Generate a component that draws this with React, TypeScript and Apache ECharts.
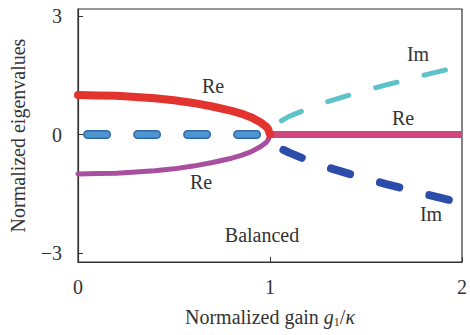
import React, { useEffect, useRef } from "react";
import * as echarts from "echarts";

const gRe = [0, 0.1, 0.2, 0.3, 0.4, 0.5, 0.6, 0.7, 0.8, 0.85, 0.9, 0.95, 0.98, 0.99, 1.0];
const reUpper = [1.0, 0.99, 0.98, 0.95, 0.92, 0.87, 0.8, 0.71, 0.6, 0.53, 0.44, 0.31, 0.2, 0.14, 0];
const reLower = [-1.0, -0.99, -0.98, -0.95, -0.92, -0.87, -0.8, -0.71, -0.6, -0.53, -0.44, -0.31, -0.2, -0.14, 0];
const gBalancedIm = [0.05, 1.0];
const imBalanced = [0, 0];
const gBrokenRe = [1.0, 2.0];
const reBroken = [0, 0];
const gImUp = [1.06, 1.1, 1.2, 1.3, 1.4, 1.5, 1.6, 1.7, 1.8, 1.9, 2.0];
const imUpper = [0.35, 0.46, 0.66, 0.83, 0.98, 1.12, 1.25, 1.37, 1.5, 1.62, 1.73];
const gImLow = [1.07, 1.1, 1.2, 1.3, 1.4, 1.5, 1.6, 1.7, 1.8, 1.9, 2.0];
const imLower = [-0.39, -0.46, -0.66, -0.83, -0.98, -1.12, -1.25, -1.37, -1.5, -1.62, -1.73];
const yTicks = [-3, 0, 3];

const FONT = "Liberation Serif";
const TXT = "#333";

const pts = (xs: number[], ys: number[]) => xs.map((x, i) => [x, ys[i]]);

export default function App() {
  const ref = useRef<HTMLDivElement>(null);
  useEffect(() => {
    document.body.style.margin = "0";
    const chart = echarts.init(ref.current!, undefined, { renderer: "svg" });
    const lbl = (text: string, x: number, y: number) => ({
      type: "text",
      x,
      y,
      style: {
        text,
        fontFamily: FONT,
        fontSize: 20,
        fill: TXT,
        textAlign: "center",
        textVerticalAlign: "middle",
      },
      z: 100,
    });
    chart.setOption({
      animation: false,
      backgroundColor: "#fff",
      textStyle: { fontFamily: FONT },
      grid: { left: 72, right: 7, top: 9, bottom: 73, show: true, borderColor: "#333", borderWidth: 1.2, backgroundColor: "transparent" },
      xAxis: {
        type: "value",
        min: 0,
        max: 2,
        interval: 1,
        name: "{a|Normalized gain }{i|g}{s|1}{a|/}{i|κ}",
        nameLocation: "middle",
        nameGap: 44,
        nameTextStyle: {
          fontFamily: FONT,
          rich: {
            a: { fontFamily: FONT, fontSize: 20, color: TXT },
            i: { fontFamily: FONT, fontSize: 20, color: TXT, fontStyle: "italic" },
            s: { fontFamily: FONT, fontSize: 12, color: TXT, padding: [10, 0, 0, 0] },
          },
        },
        axisLine: { onZero: false, lineStyle: { color: "#333", width: 1.2 } },
        axisTick: { inside: true, length: 5, lineStyle: { color: "#333" } },
        axisLabel: { fontFamily: FONT, fontSize: 20, color: TXT, margin: 15 },
        splitLine: { show: false },
      },
      yAxis: {
        type: "value",
        min: -3.23,
        max: 3.18,
        name: "Normalized eigenvalues",
        nameLocation: "middle",
        nameGap: 50,
        nameTextStyle: { fontFamily: FONT, fontSize: 20, color: TXT },
        axisLine: { onZero: false, lineStyle: { color: "#333", width: 1.2 } },
        axisTick: { inside: true, length: 5, customValues: yTicks, lineStyle: { color: "#333" } },
        axisLabel: {
          fontFamily: FONT,
          fontSize: 20,
          color: TXT,
          margin: 16,
          customValues: yTicks,
          formatter: (v: number) => String(v).replace("-", "\u2212"),
        },
        splitLine: { show: false },
      },
      series: [
        {
          type: "line",
          data: pts(gBalancedIm, imBalanced),
          symbol: "none",
          z: 2,
          lineStyle: { color: "#2f6aa6", width: 9, type: [19, 31], cap: "round" },
        },
        {
          type: "line",
          data: pts(gBalancedIm, imBalanced),
          symbol: "none",
          z: 3,
          lineStyle: { color: "#4f95d2", width: 6, type: [19, 31], cap: "round" },
        },
        {
          type: "line",
          data: pts(gRe, reLower),
          symbol: "none",
          z: 4,
          lineStyle: { color: "#a94f9f", width: 5, cap: "round", join: "round" },
        },
        {
          type: "line",
          data: pts(gRe, reUpper),
          symbol: "none",
          z: 5,
          lineStyle: { color: "#e3332e", width: 8, cap: "round", join: "round" },
        },
        {
          type: "line",
          data: pts(gBrokenRe, reBroken),
          symbol: "none",
          z: 4,
          lineStyle: { color: "#d2457d", width: 7 },
        },
        {
          type: "line",
          data: pts(gImUp, imUpper),
          symbol: "none",
          z: 4,
          lineStyle: { color: "#5ec3c9", width: 5, type: [22, 28], cap: "round", join: "round" },
        },
        {
          type: "line",
          data: pts(gImLow, imLower),
          symbol: "none",
          z: 4,
          lineStyle: { color: "#2b4ca8", width: 8, type: [20, 31], cap: "round", join: "round" },
        },
      ],
      graphic: [
        lbl("Re", 213, 86),
        lbl("Re", 201, 182),
        lbl("Re", 403, 118),
        lbl("Im", 418, 54),
        lbl("Im", 431, 214),
        lbl("Balanced", 262, 235),
      ],
    });
    return () => chart.dispose();
  }, []);
  return <div ref={ref} style={{ width: 470, height: 335 }} />;
}
